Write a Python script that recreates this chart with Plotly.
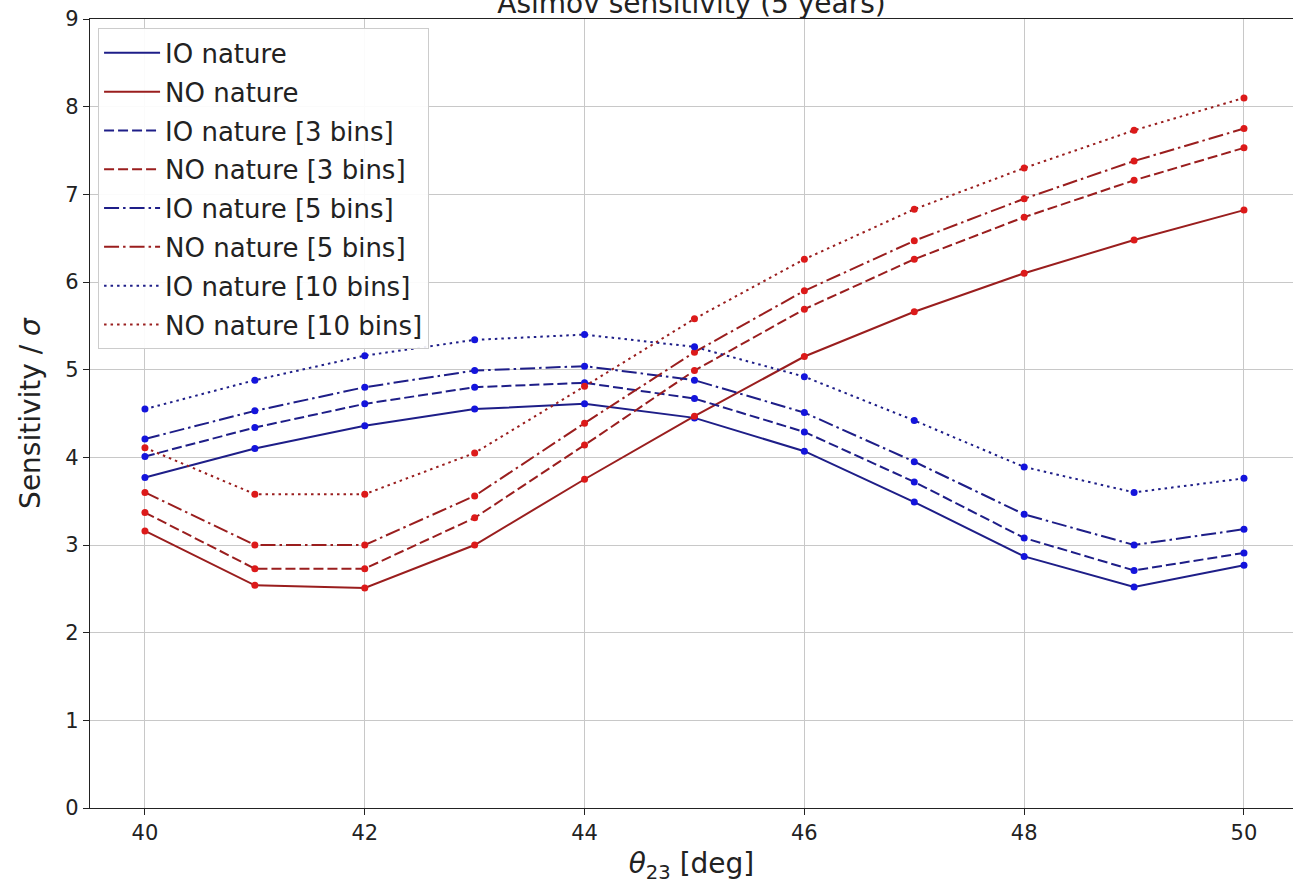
import plotly.graph_objects as go

theta = [40, 41, 42, 43, 44, 45, 46, 47, 48, 49, 50]

io_nature = [3.77, 4.10, 4.36, 4.55, 4.61, 4.45, 4.07, 3.49, 2.87, 2.52, 2.77]
no_nature = [3.16, 2.54, 2.51, 3.00, 3.75, 4.47, 5.15, 5.66, 6.10, 6.48, 6.82]
io_3bins = [4.01, 4.34, 4.61, 4.80, 4.85, 4.67, 4.29, 3.72, 3.08, 2.71, 2.91]
no_3bins = [3.37, 2.73, 2.73, 3.31, 4.14, 4.99, 5.69, 6.26, 6.74, 7.16, 7.53]
io_5bins = [4.21, 4.53, 4.80, 4.99, 5.04, 4.88, 4.51, 3.95, 3.35, 3.00, 3.18]
no_5bins = [3.60, 3.00, 3.00, 3.56, 4.39, 5.20, 5.90, 6.47, 6.95, 7.38, 7.75]
io_10bins = [4.55, 4.88, 5.16, 5.34, 5.40, 5.26, 4.92, 4.42, 3.89, 3.60, 3.76]
no_10bins = [4.11, 3.58, 3.58, 4.05, 4.81, 5.58, 6.26, 6.83, 7.30, 7.73, 8.10]

labels = ["IO nature", "NO nature", "IO nature [3 bins]", "NO nature [3 bins]",
          "IO nature [5 bins]", "NO nature [5 bins]", "IO nature [10 bins]", "NO nature [10 bins]"]
series = [io_nature, no_nature, io_3bins, no_3bins, io_5bins, no_5bins, io_10bins, no_10bins]

x_ticks = [40, 42, 44, 46, 48, 50]
y_ticks = list(range(10))

blue_line, blue_mark = "#1e1e88", "#1414dc"
red_line, red_mark = "#9a1e1e", "#dc1a1a"
dash_solid = "solid"
dash_dash = "10px,4px"
dash_dashdot = "15px,4px,2.5px,4px"
dash_dot = "2.5px,4px"
dashes = [dash_solid, dash_solid, dash_dash, dash_dash,
          dash_dashdot, dash_dashdot, dash_dot, dash_dot]

fig = go.Figure()
for i, (name, ys) in enumerate(zip(labels, series)):
    is_io = name.startswith("IO")
    lc = blue_line if is_io else red_line
    mc = blue_mark if is_io else red_mark
    fig.add_trace(go.Scatter(
        x=theta, y=ys, name=name, mode="lines+markers", showlegend=False,
        line=dict(color=lc, width=2, dash=dashes[i]),
        marker=dict(color=mc, size=7),
    ))
# legend entries (line samples only, like the reference)
for i, name in enumerate(labels):
    is_io = name.startswith("IO")
    lc = blue_line if is_io else red_line
    fig.add_trace(go.Scatter(
        x=[None], y=[None], name=name, mode="lines", legendgroup=f"g{i}",
        line=dict(color=lc, width=2, dash=dashes[i]),
    ))

tick_font = dict(family="DejaVu Sans", size=21, color="#222")
label_font = dict(family="DejaVu Sans", size=28, color="#222")
fig.update_layout(
    width=1293, height=888,
    margin=dict(l=90, r=0, t=19, b=80),
    paper_bgcolor="white", plot_bgcolor="white",
    font=dict(family="DejaVu Sans", color="#222"),
    title=dict(text="Asimov sensitivity (5 years)", x=0.5, xref="paper", xanchor="center",
               y=1 - 3 / 888, yref="container", yanchor="middle",
               font=dict(family="DejaVu Sans", size=28, color="#222")),
    legend=dict(x=0.0067, y=0.988, xanchor="left", yanchor="top",
                bgcolor="rgba(255,255,255,0.92)", bordercolor="#cccccc", borderwidth=1,
                font=dict(family="DejaVu Sans", size=26, color="#222"),
                traceorder="grouped", tracegroupgap=2, itemwidth=56),
    xaxis=dict(range=[39.5, 50.446], tickvals=x_ticks,
               showgrid=True, gridcolor="#c8c8c8", gridwidth=1,
               showline=True, linecolor="#222", linewidth=1.3, mirror=True,
               ticks="outside", ticklen=6, tickcolor="#222", tickfont=tick_font,
               zeroline=False,
               title=dict(text="<i>θ</i><sub>23</sub> [deg]", font=label_font, standoff=9)),
    yaxis=dict(range=[0, 9], tickvals=y_ticks,
               showgrid=True, gridcolor="#c8c8c8", gridwidth=1,
               showline=True, linecolor="#222", linewidth=1.3, mirror=False,
               ticks="outside", ticklen=6, tickcolor="#222", tickfont=tick_font,
               zeroline=False,
               title=dict(text="Sensitivity / <i>σ</i>", font=label_font, standoff=16)),
)

fig.write_html("out.html")
